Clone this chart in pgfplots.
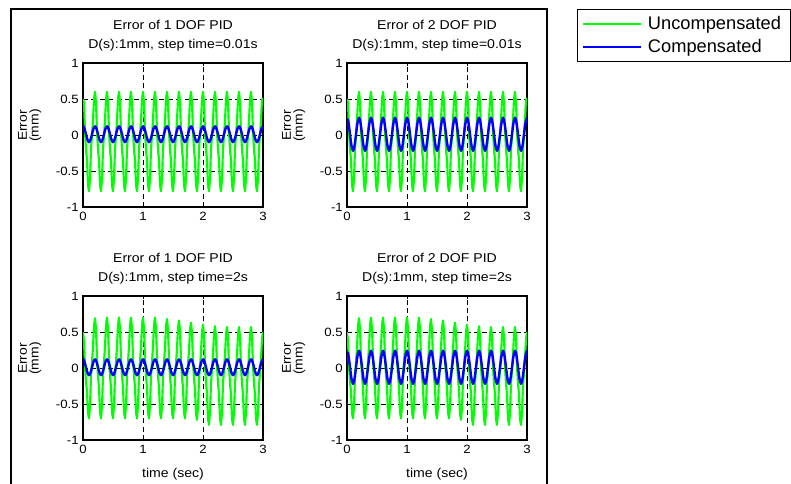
\documentclass[border=0pt]{standalone}
\usepackage{pgfplots}
\pgfplotsset{compat=1.18}
\usepackage{pgfplotstable}
\usepackage{fontspec}
\setmainfont{Liberation Sans}
\newfontfamily\axfont{Liberation Sans}[FakeStretch=1.1]
\definecolor{mgreen}{RGB}{0,255,0}
\definecolor{mblue}{RGB}{0,0,255}

% t : time (s); gtop/gbot : uncompensated (step time 0.01 s / 2 s); bl/br : compensated (1 DOF / 2 DOF)
\pgfplotstableread{
t gtop gbot bl br
0 0.50 0.50 0.13 0.22
0.0167 0.45 0.370 0.105 0.21
0.0333 0.05 0.022 0.065 0.125
0.05 -0.20 -0.195 0.01 0.01
0.0667 -0.35 -0.326 -0.045 -0.105
0.0833 -0.70 -0.630 -0.085 -0.19
0.1 -0.78 -0.70 -0.10 -0.22
0.1167 -0.60 -0.519 -0.085 -0.19
0.1333 -0.20 -0.115 -0.045 -0.105
0.15 0.00 0.085 0.01 0.01
0.1667 0.20 0.287 0.065 0.125
0.1833 0.50 0.589 0.105 0.21
0.2 0.60 0.69 0.12 0.24
0.2167 0.45 0.539 0.105 0.21
0.2333 0.05 0.136 0.065 0.125
0.25 -0.20 -0.115 0.01 0.01
0.2667 -0.35 -0.267 -0.045 -0.105
0.2833 -0.70 -0.619 -0.085 -0.19
0.3 -0.78 -0.70 -0.10 -0.22
0.3167 -0.60 -0.517 -0.085 -0.19
0.3333 -0.20 -0.111 -0.045 -0.105
0.35 0.00 0.091 0.01 0.01
0.3667 0.20 0.294 0.065 0.125
0.3833 0.50 0.599 0.105 0.21
0.4 0.60 0.70 0.12 0.24
0.4167 0.45 0.548 0.105 0.21
0.4333 0.05 0.142 0.065 0.125
0.45 -0.20 -0.111 0.01 0.01
0.4667 -0.35 -0.264 -0.045 -0.105
0.4833 -0.70 -0.619 -0.085 -0.19
0.5 -0.78 -0.70 -0.10 -0.22
0.5167 -0.60 -0.517 -0.085 -0.19
0.5333 -0.20 -0.111 -0.045 -0.105
0.55 0.00 0.091 0.01 0.01
0.5667 0.20 0.294 0.065 0.125
0.5833 0.50 0.599 0.105 0.21
0.6 0.60 0.70 0.12 0.24
0.6167 0.45 0.548 0.105 0.21
0.6333 0.05 0.142 0.065 0.125
0.65 -0.20 -0.111 0.01 0.01
0.6667 -0.35 -0.264 -0.045 -0.105
0.6833 -0.70 -0.619 -0.085 -0.19
0.7 -0.78 -0.70 -0.10 -0.22
0.7167 -0.60 -0.517 -0.085 -0.19
0.7333 -0.20 -0.111 -0.045 -0.105
0.75 0.00 0.091 0.01 0.01
0.7667 0.20 0.294 0.065 0.125
0.7833 0.50 0.599 0.105 0.21
0.8 0.60 0.70 0.12 0.24
0.8167 0.45 0.548 0.105 0.21
0.8333 0.05 0.142 0.065 0.125
0.85 -0.20 -0.111 0.01 0.01
0.8667 -0.35 -0.264 -0.045 -0.105
0.8833 -0.70 -0.619 -0.085 -0.19
0.9 -0.78 -0.70 -0.10 -0.22
0.9167 -0.60 -0.517 -0.085 -0.19
0.9333 -0.20 -0.111 -0.045 -0.105
0.95 0.00 0.091 0.01 0.01
0.9667 0.20 0.294 0.065 0.125
0.9833 0.50 0.599 0.105 0.21
1.0 0.60 0.70 0.12 0.24
1.0167 0.45 0.548 0.105 0.21
1.0333 0.05 0.142 0.065 0.125
1.05 -0.20 -0.111 0.01 0.01
1.0667 -0.35 -0.264 -0.045 -0.105
1.0833 -0.70 -0.619 -0.085 -0.19
1.1 -0.78 -0.70 -0.10 -0.22
1.1167 -0.60 -0.517 -0.085 -0.19
1.1333 -0.20 -0.111 -0.045 -0.105
1.15 0.00 0.091 0.01 0.01
1.1667 0.20 0.294 0.065 0.125
1.1833 0.50 0.599 0.105 0.21
1.2 0.60 0.70 0.12 0.24
1.2167 0.45 0.548 0.105 0.21
1.2333 0.05 0.142 0.065 0.125
1.25 -0.20 -0.111 0.01 0.01
1.2667 -0.35 -0.264 -0.045 -0.105
1.2833 -0.70 -0.619 -0.085 -0.19
1.3 -0.78 -0.70 -0.10 -0.22
1.3167 -0.60 -0.520 -0.085 -0.19
1.3333 -0.20 -0.120 -0.045 -0.105
1.35 0.00 0.080 0.01 0.01
1.3667 0.20 0.280 0.065 0.125
1.3833 0.50 0.580 0.105 0.21
1.4 0.60 0.68 0.12 0.24
1.4167 0.45 0.530 0.105 0.21
1.4333 0.05 0.130 0.065 0.125
1.45 -0.20 -0.120 0.01 0.01
1.4667 -0.35 -0.270 -0.045 -0.105
1.4833 -0.70 -0.620 -0.085 -0.19
1.5 -0.78 -0.70 -0.10 -0.22
1.5167 -0.60 -0.523 -0.085 -0.19
1.5333 -0.20 -0.128 -0.045 -0.105
1.55 0.00 0.068 0.01 0.01
1.5667 0.20 0.266 0.065 0.125
1.5833 0.50 0.561 0.105 0.21
1.6 0.60 0.66 0.12 0.24
1.6167 0.45 0.512 0.105 0.21
1.6333 0.05 0.118 0.065 0.125
1.65 -0.20 -0.128 0.01 0.01
1.6667 -0.35 -0.276 -0.045 -0.105
1.6833 -0.70 -0.621 -0.085 -0.19
1.7 -0.78 -0.70 -0.10 -0.22
1.7167 -0.60 -0.526 -0.085 -0.19
1.7333 -0.20 -0.141 -0.045 -0.105
1.75 0.00 0.051 0.01 0.01
1.7667 0.20 0.244 0.065 0.125
1.7833 0.50 0.534 0.105 0.21
1.8 0.60 0.63 0.12 0.24
1.8167 0.45 0.484 0.105 0.21
1.8333 0.05 0.092 0.065 0.125
1.85 -0.20 -0.152 0.01 0.01
1.8667 -0.35 -0.299 -0.045 -0.105
1.8833 -0.70 -0.642 -0.085 -0.19
1.9 -0.78 -0.72 -0.10 -0.22
1.9167 -0.60 -0.548 -0.085 -0.19
1.9333 -0.20 -0.165 -0.045 -0.105
1.95 0.00 0.026 0.01 0.01
1.9667 0.20 0.217 0.065 0.125
1.9833 0.50 0.504 0.105 0.21
2.0 0.60 0.60 0.12 0.24
2.0167 0.45 0.449 0.105 0.21
2.0333 0.05 0.046 0.065 0.125
2.05 -0.20 -0.205 0.01 0.01
2.0667 -0.35 -0.357 -0.045 -0.105
2.0833 -0.70 -0.709 -0.085 -0.19
2.1 -0.78 -0.79 -0.10 -0.22
2.1167 -0.60 -0.611 -0.085 -0.19
2.1333 -0.20 -0.214 -0.045 -0.105
2.15 0.00 -0.016 0.01 0.01
2.1667 0.20 0.183 0.065 0.125
2.1833 0.50 0.481 0.105 0.21
2.2 0.60 0.58 0.12 0.24
2.2167 0.45 0.431 0.105 0.21
2.2333 0.05 0.034 0.065 0.125
2.25 -0.20 -0.214 0.01 0.01
2.2667 -0.35 -0.363 -0.045 -0.105
2.2833 -0.70 -0.711 -0.085 -0.19
2.3 -0.78 -0.79 -0.10 -0.22
2.3167 -0.60 -0.613 -0.085 -0.19
2.3333 -0.20 -0.218 -0.045 -0.105
2.35 0.00 -0.022 0.01 0.01
2.3667 0.20 0.176 0.065 0.125
2.3833 0.50 0.471 0.105 0.21
2.4 0.60 0.57 0.12 0.24
2.4167 0.45 0.422 0.105 0.21
2.4333 0.05 0.028 0.065 0.125
2.45 -0.20 -0.218 0.01 0.01
2.4667 -0.35 -0.366 -0.045 -0.105
2.4833 -0.70 -0.711 -0.085 -0.19
2.5 -0.78 -0.79 -0.10 -0.22
2.5167 -0.60 -0.613 -0.085 -0.19
2.5333 -0.20 -0.218 -0.045 -0.105
2.55 0.00 -0.022 0.01 0.01
2.5667 0.20 0.176 0.065 0.125
2.5833 0.50 0.471 0.105 0.21
2.6 0.60 0.57 0.12 0.24
2.6167 0.45 0.422 0.105 0.21
2.6333 0.05 0.028 0.065 0.125
2.65 -0.20 -0.218 0.01 0.01
2.6667 -0.35 -0.366 -0.045 -0.105
2.6833 -0.70 -0.711 -0.085 -0.19
2.7 -0.78 -0.79 -0.10 -0.22
2.7167 -0.60 -0.613 -0.085 -0.19
2.7333 -0.20 -0.218 -0.045 -0.105
2.75 0.00 -0.022 0.01 0.01
2.7667 0.20 0.176 0.065 0.125
2.7833 0.50 0.471 0.105 0.21
2.8 0.60 0.57 0.12 0.24
2.8167 0.45 0.422 0.105 0.21
2.8333 0.05 0.028 0.065 0.125
2.85 -0.20 -0.218 0.01 0.01
2.8667 -0.35 -0.366 -0.045 -0.105
2.8833 -0.70 -0.711 -0.085 -0.19
2.9 -0.78 -0.79 -0.10 -0.22
2.9167 -0.60 -0.622 -0.085 -0.19
2.9333 -0.20 -0.248 -0.045 -0.105
2.95 0.00 -0.061 0.01 0.01
2.9667 0.20 0.126 0.065 0.125
2.9833 0.50 0.406 0.105 0.21
3.0 0.50 0.50 0.12 0.24
}\sig

\pgfplotsset{
  myax/.style={
    scale only axis, width=135pt, height=108pt,
    xmin=0, xmax=3, ymin=-1, ymax=1,
    xtick={0,1,2,3}, ytick={-1,-0.5,0,0.5,1},
    grid=major,
    major grid style={black, line width=0.5pt, dash pattern=on 3.75pt off 2.6pt},
    tick align=inside, major tick length=2.25pt,
    tick style={black, line width=0.6pt},
    axis line style={black, line width=0.8pt},
    /pgf/number format/assume math mode=true,
    ticklabel style={font=\axfont\fontsize{9}{10}\selectfont, inner sep=0pt},
    xticklabel style={yshift=-3.75pt},
    yticklabel style={xshift=-3pt},
    ylabel={Error\\(mm)},
    every axis y label/.style={at={(axis description cs:-0.23,0.566)}, anchor=south, rotate=90, align=center, inner sep=0pt, font=\axfont\fontsize{9.5}{8.8}\selectfont},
    every axis title/.style={at={(axis description cs:0.5,1)}, anchor=south, yshift=8.4pt, align=center, inner sep=0pt, font=\axfont\fontsize{9.6}{14.25}\selectfont},
    every axis x label/.style={at={(axis description cs:0.5,0)}, anchor=base, yshift=-28.3pt, inner sep=0pt, font=\axfont\fontsize{9.6}{10}\selectfont},
  },
  gr/.style={mgreen, line width=1.6pt, line join=round},
  bu/.style={mblue, line width=1.8pt, line join=round},
}

\begin{document}
\begin{tikzpicture}
\useasboundingbox (0,0) rectangle (593.25pt,363pt);
\fill[white] (0,0) rectangle (593.25pt,363pt);
\draw[black, line width=1pt] (8.25pt,-2pt) -- (8.25pt,356.25pt) -- (410.25pt,356.25pt) -- (410.25pt,-2pt);

\begin{axis}[myax, at={(62.25pt,207.75pt)}, anchor=south west,
  title={Error of 1 DOF PID\\D(s):1mm, step time=0.01s}]
  \addplot[gr] table[x=t, y=gtop]{\sig};
  \addplot[bu] table[x=t, y=bl]{\sig};
\end{axis}

\begin{axis}[myax, at={(260.25pt,207.75pt)}, anchor=south west,
  title={Error of 2 DOF PID\\D(s):1mm, step time=0.01s},
  legend style={at={(axis description cs:1.2778,1.375)}, anchor=north west,
    font=\fontsize{13.7}{16}\selectfont, draw=black, line width=0.8pt,
    inner xsep=3.5pt, inner ysep=4pt, row sep=3.8pt,
    nodes={inner ysep=1pt, inner xsep=4pt}},
  legend cell align=left,
  legend image code/.code={\draw[#1] (0pt,0pt) -- (43.5pt,0pt);}]
  \addplot[gr] table[x=t, y=gtop]{\sig};
  \addplot[bu] table[x=t, y=br]{\sig};
  \legend{Uncompensated, Compensated}
\end{axis}

\begin{axis}[myax, at={(62.25pt,33pt)}, anchor=south west,
  title={Error of 1 DOF PID\\D(s):1mm, step time=2s}, xlabel={time (sec)}]
  \addplot[gr] table[x=t, y=gbot]{\sig};
  \addplot[bu] table[x=t, y=bl]{\sig};
\end{axis}

\begin{axis}[myax, at={(260.25pt,33pt)}, anchor=south west,
  title={Error of 2 DOF PID\\D(s):1mm, step time=2s}, xlabel={time (sec)}]
  \addplot[gr] table[x=t, y=gbot]{\sig};
  \addplot[bu] table[x=t, y=br]{\sig};
\end{axis}
\end{tikzpicture}
\end{document}
